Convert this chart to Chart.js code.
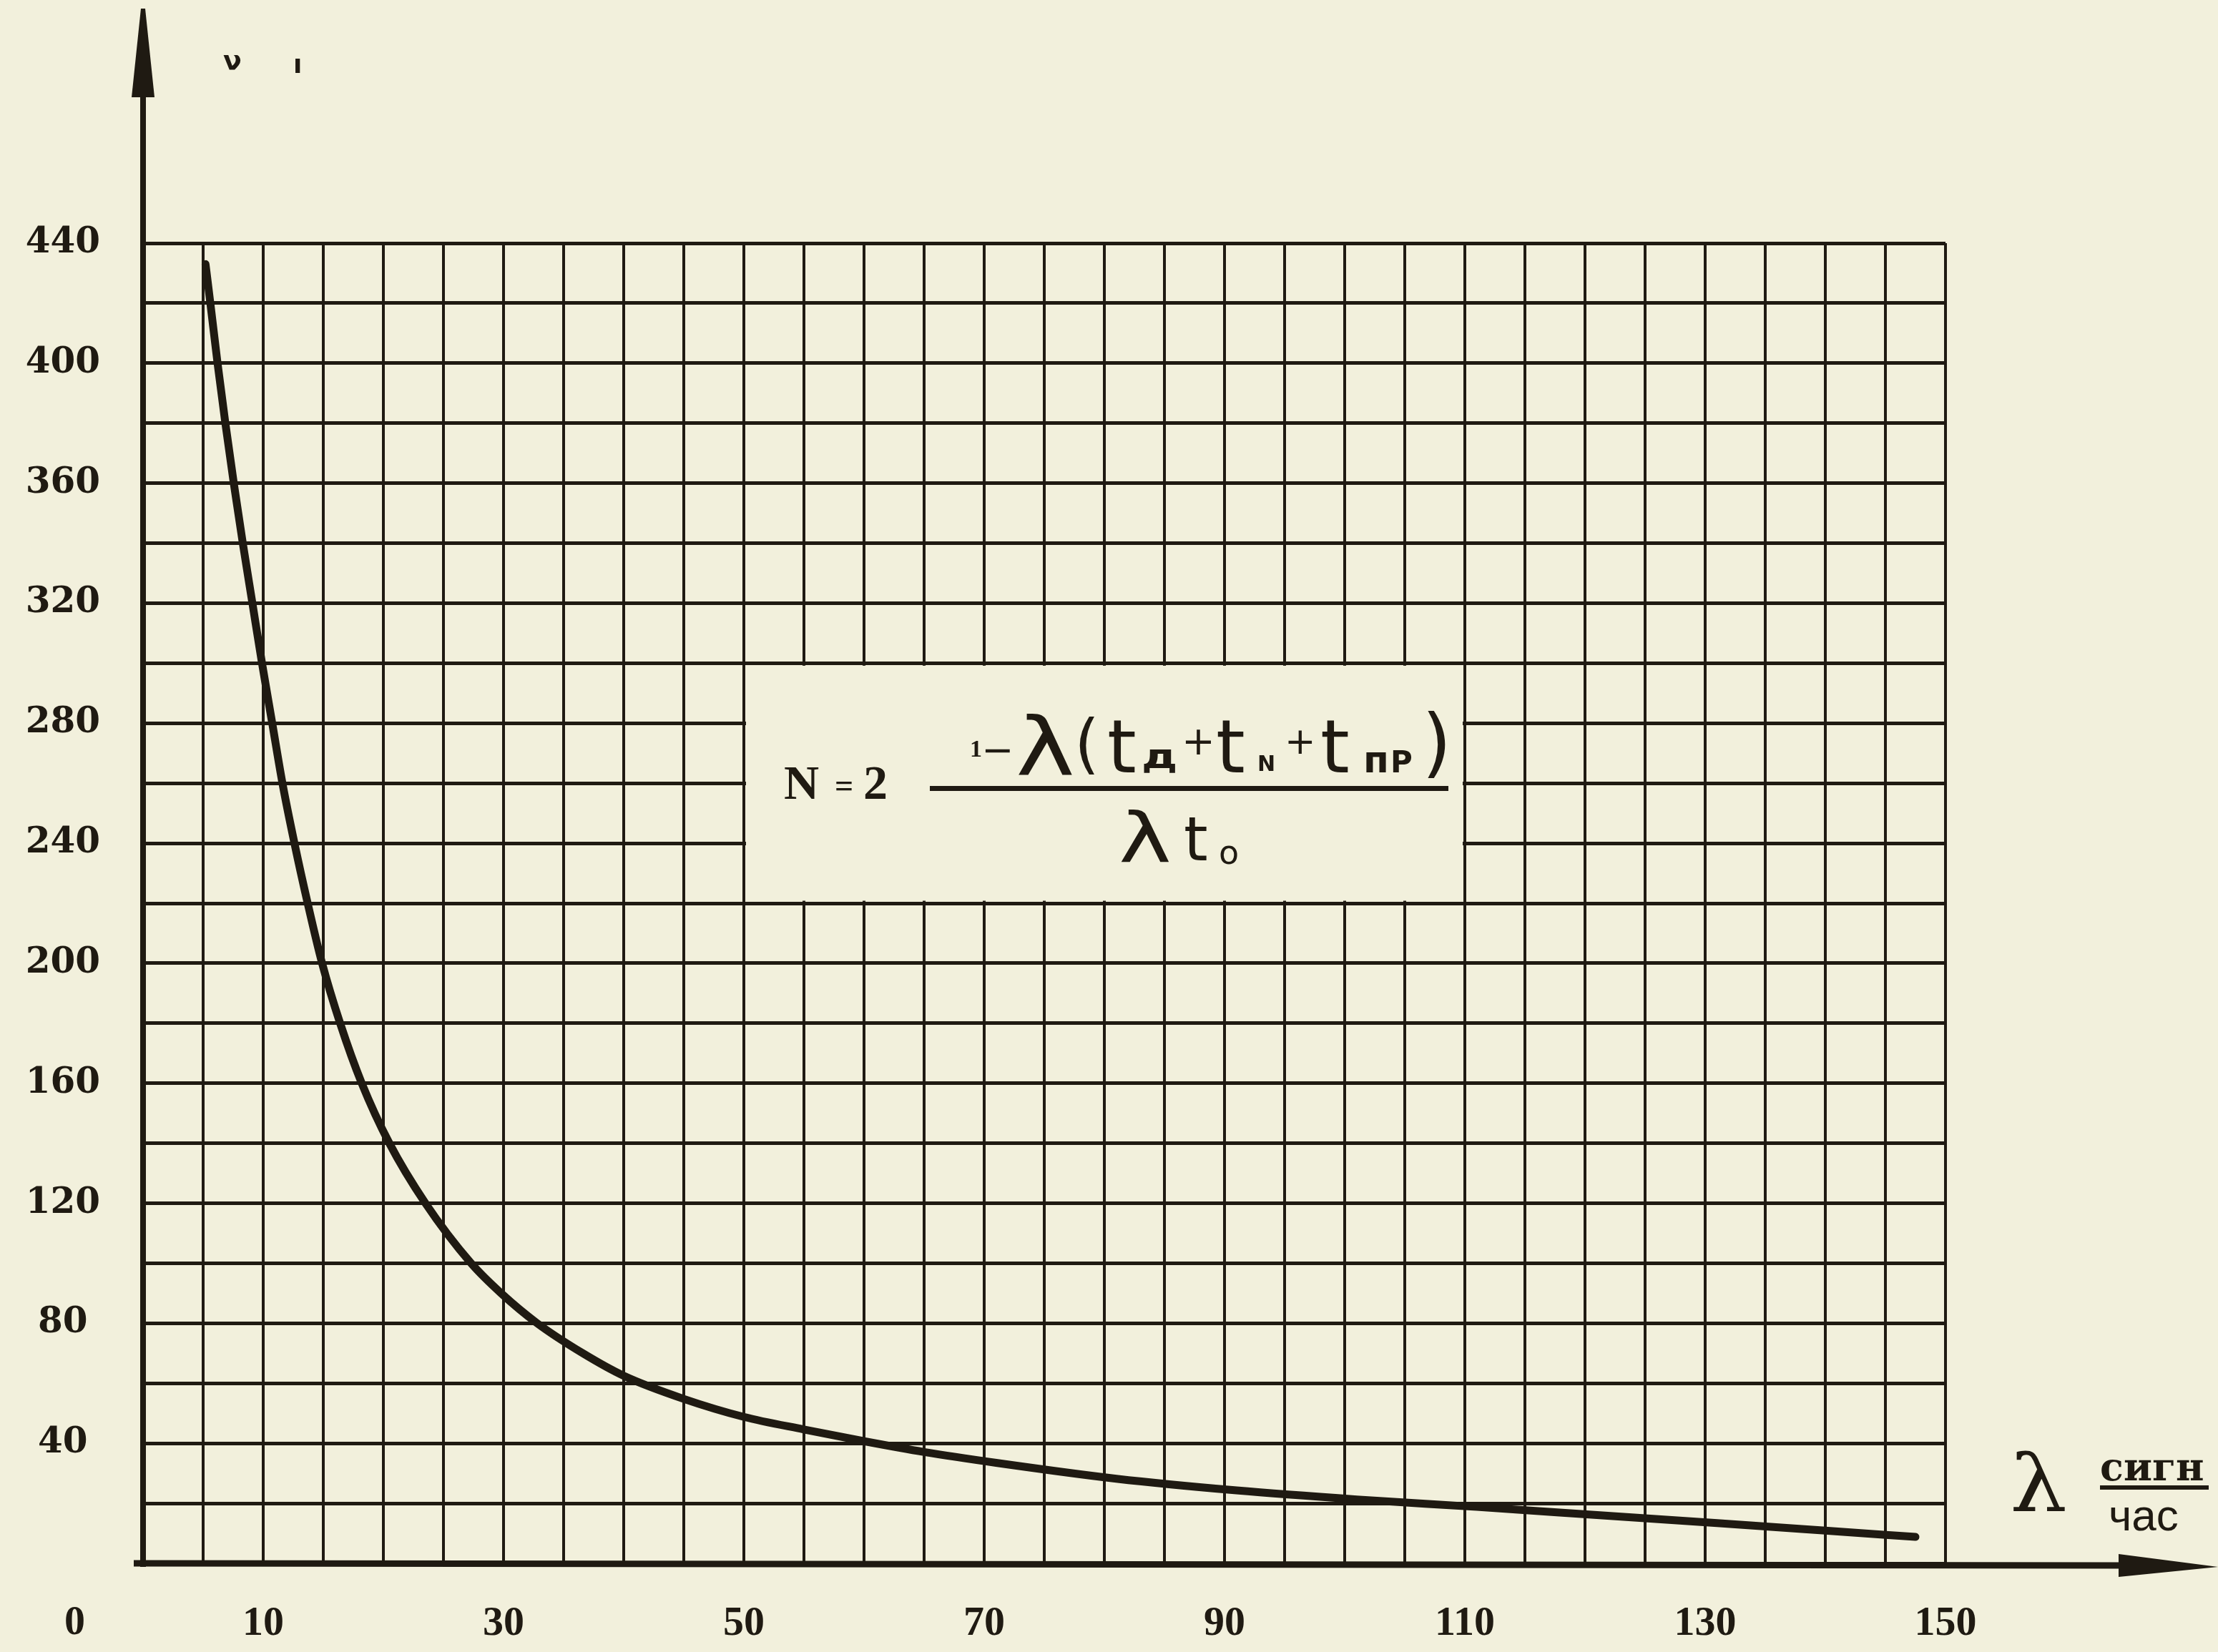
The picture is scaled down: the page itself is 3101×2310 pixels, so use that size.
<!DOCTYPE html>
<html lang="ru">
<head>
<meta charset="utf-8">
<title>N(λ)</title>
<script src="https://cdn.jsdelivr.net/npm/chart.js@4.4.1/dist/chart.umd.min.js"></script>
<style>
  html, body { margin: 0; padding: 0; background: #f2f0dc; overflow: hidden; }
  canvas { display: block; }
</style>
</head>
<body>
<canvas id="chart" width="3101" height="2310"></canvas>
<script>
// ---------- Значения ----------
// λ, сигн/час
const LAMBDA = [5.2, 5.6, 6.2, 6.85, 7.55, 8.3, 9.1, 9.9, 10.75, 11.6, 12.6, 13.7, 14.9, 16.4,
                18.2, 20.5, 23.5, 27.3, 29.8, 32.8, 36.6, 40, 45, 50, 55, 60, 65, 71, 81,
                91, 101, 111, 121, 131, 140, 147.5];
// N
const N_VALUES = [433, 420, 400, 380, 360, 340, 320, 300, 280, 260, 240, 220, 200, 180,
                  160, 140, 120, 100, 90, 80, 70, 62.5, 54.8, 48.8, 44.6, 40.7, 37.1, 33.5, 28.2,
                  24.3, 21.3, 18.8, 16.1, 13.4, 10.9, 8.8];

const X_TICK_LABELS = [10, 30, 50, 70, 90, 110, 130, 150];
const Y_TICK_LABELS = [40, 80, 120, 160, 200, 240, 280, 320, 360, 400, 440];
const X_RANGE = [0, 150];
const Y_RANGE = [0, 440];
const X_STEP = 5;     // шаг сетки по λ
const Y_STEP = 20;    // шаг сетки по N
// клетка без сетки, в которой стоит формула
const BOX_X = [50, 110];
const BOX_Y = [220, 300];

// ---------- Оформление ----------
const PAPER = '#f2f0dc';
const INK = '#1f1a12';

function txt(ctx, s, x, y, font, opts) {
  opts = opts || {};
  ctx.save();
  ctx.font = font;
  ctx.fillStyle = INK;
  ctx.textAlign = 'left';
  ctx.textBaseline = opts.baseline || 'alphabetic';
  ctx.translate(x, y);
  if (opts.sx) ctx.scale(opts.sx, 1);
  ctx.fillText(s, 0, 0);
  ctx.restore();
}

const paperPlugin = {
  id: 'paper',
  beforeDraw(chart) {
    const ctx = chart.ctx;
    ctx.save();
    ctx.fillStyle = PAPER;
    ctx.fillRect(0, 0, chart.width, chart.height);
    ctx.restore();
  },
  beforeDatasetsDraw(chart) {
    // стираем линии сетки внутри рамки с формулой
    const { x, y } = chart.scales;
    const l = x.getPixelForValue(BOX_X[0]) + 3;
    const r = x.getPixelForValue(BOX_X[1]) - 3;
    const t = y.getPixelForValue(BOX_Y[1]) + 3.5;
    const b = y.getPixelForValue(BOX_Y[0]) - 3.5;
    const ctx = chart.ctx;
    ctx.save();
    ctx.fillStyle = PAPER;
    ctx.fillRect(l, t, r - l, b - t);
    ctx.restore();
  },
  afterDraw(chart) {
    const ctx = chart.ctx;
    const { x, y } = chart.scales;
    const x0 = x.getPixelForValue(0);
    const y0 = y.getPixelForValue(0);

    ctx.save();
    ctx.strokeStyle = INK;
    ctx.fillStyle = INK;
    ctx.lineCap = 'butt';

    // ось N со стрелкой
    ctx.lineWidth = 8;
    ctx.beginPath();
    ctx.moveTo(x0, y0 + 5);
    ctx.lineTo(x0, 125);
    ctx.stroke();
    ctx.beginPath();
    ctx.moveTo(x0 - 16, 136);
    ctx.lineTo(x0 + 16, 136);
    ctx.lineTo(x0 + 3, 12);
    ctx.lineTo(x0 - 3, 12);
    ctx.closePath();
    ctx.fill();

    // ось λ со стрелкой
    ctx.lineWidth = 9;
    ctx.beginPath();
    ctx.moveTo(x0 - 13, y0);
    ctx.lineTo(2975, y0 + 3);
    ctx.stroke();
    ctx.beginPath();
    ctx.moveTo(2962, y0 - 13);
    ctx.lineTo(2962, y0 + 19);
    ctx.lineTo(3101, y0 + 5);
    ctx.closePath();
    ctx.fill();
    ctx.restore();

    // нуль в углу
    txt(ctx, '0', 90, 2270, 'bold 58px "Liberation Serif"', { baseline: 'middle' });

    // остатки подписи оси сверху
    txt(ctx, 'ν', 312, 97, 'bold 38px "DejaVu Sans"');
    txt(ctx, 'ı', 410, 102, 'bold 36px "DejaVu Sans"');

    // подпись оси λ
    txt(ctx, 'λ', 2810, 2113, '110px "DejaVu Serif"', { sx: 1.15 });
    txt(ctx, 'сигн', 2936, 2070, 'bold 54px "DejaVu Serif"');
    ctx.fillStyle = INK;
    ctx.fillRect(2936, 2077, 152, 6);
    txt(ctx, 'час', 2948, 2140, '62px "Liberation Sans"');

    // формула
    const SANS = '"DejaVu Sans"';
    txt(ctx, 'N', 1096, 1117, 'bold 68px "Liberation Serif"');
    txt(ctx, '=', 1167, 1114, 'bold 46px "Liberation Serif"');
    txt(ctx, '2', 1207, 1117, 'bold 68px "Liberation Serif"');
    ctx.fillRect(1300, 1099, 725, 7);
    // числитель
    txt(ctx, '1', 1356, 1058, 'bold 34px "Liberation Serif"');
    txt(ctx, '−', 1372, 1053, '54px ' + SANS, { baseline: 'middle' });
    txt(ctx, 'λ', 1420, 1083, '112px ' + SANS, { sx: 1.25 });
    txt(ctx, '(', 1502, 1071, '90px ' + SANS);
    txt(ctx, 't', 1548, 1080, '104px ' + SANS);
    txt(ctx, 'д', 1596, 1074, 'bold 48px ' + SANS, { sx: 1.3 });
    txt(ctx, '+', 1652, 1040, '56px ' + SANS, { baseline: 'middle' });
    txt(ctx, 't', 1700, 1080, '104px ' + SANS);
    txt(ctx, 'N', 1758, 1078, 'bold 30px ' + SANS);
    txt(ctx, '+', 1796, 1040, '52px ' + SANS, { baseline: 'middle' });
    txt(ctx, 't', 1846, 1080, '104px ' + SANS);
    txt(ctx, 'п', 1906, 1080, 'bold 52px ' + SANS);
    txt(ctx, 'Р', 1944, 1080, 'bold 42px ' + SANS);
    txt(ctx, ')', 1988, 1074, '106px ' + SANS);
    // знаменатель
    txt(ctx, 'λ', 1564, 1205, '96px ' + SANS, { sx: 1.3 });
    txt(ctx, 't', 1655, 1203, '86px ' + SANS);
    txt(ctx, 'o', 1704, 1208, '46px ' + SANS);
  }
};

const ctx = document.getElementById('chart').getContext('2d');
new Chart(ctx, {
  type: 'line',
  data: {
    datasets: [{
      data: LAMBDA.map((v, i) => ({ x: v, y: N_VALUES[i] })),
      borderColor: INK,
      borderWidth: 11,
      borderCapStyle: 'round',
      borderJoinStyle: 'round',
      pointRadius: 0,
      fill: false,
      cubicInterpolationMode: 'monotone'
    }]
  },
  plugins: [paperPlugin],
  options: {
    responsive: false,
    animation: false,
    devicePixelRatio: 1,
    layout: { padding: { left: 0, right: 381, top: 340, bottom: 0 } },
    plugins: { legend: { display: false }, tooltip: { enabled: false } },
    scales: {
      x: {
        type: 'linear',
        min: X_RANGE[0], max: X_RANGE[1],
        afterFit: (s) => { s.height = 124; },
        border: { display: false },
        grid: { color: INK, lineWidth: 4, drawTicks: false },
        ticks: {
          stepSize: X_STEP,
          autoSkip: false,
          maxRotation: 0,
          padding: 50,
          color: INK,
          font: { family: 'Liberation Serif', size: 58, weight: 'bold' },
          callback: (v) => X_TICK_LABELS.includes(v) ? String(v) : ''
        }
      },
      y: {
        type: 'linear',
        min: Y_RANGE[0], max: Y_RANGE[1],
        afterFit: (s) => { s.width = 200; },
        border: { display: false },
        grid: { color: INK, lineWidth: 5, drawTicks: false },
        ticks: {
          stepSize: Y_STEP,
          autoSkip: false,
          padding: 60,
          crossAlign: 'center',
          color: INK,
          font: { family: 'DejaVu Serif', size: 50, weight: 'bold' },
          callback: (v) => Y_TICK_LABELS.includes(v) ? String(v) : ''
        }
      }
    }
  }
});
</script>
</body>
</html>
